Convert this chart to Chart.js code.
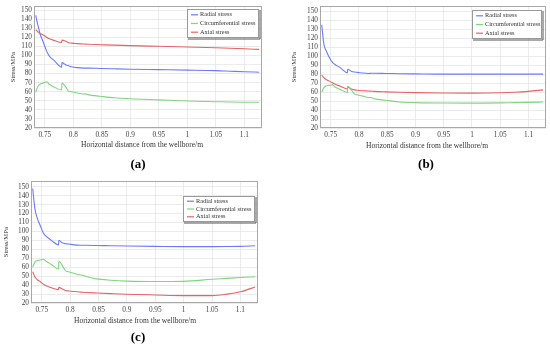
<!DOCTYPE html>
<html>
<head>
<meta charset="utf-8">
<script src="https://cdn.jsdelivr.net/npm/chart.js@4.4.0/dist/chart.umd.min.js"></script>
<style>
	body { margin: 0; width: 550px; height: 354px; background: #fff; position: relative; overflow: hidden; }
	canvas { position: absolute; }
</style>
</head>
<body>
<canvas id="chartA" width="275" height="175" style="left:0;top:0"></canvas>
<canvas id="chartB" width="275" height="175" style="left:275px;top:0"></canvas>
<canvas id="chartC" width="275" height="179" style="left:0;top:175px"></canvas>
<script>
'use strict';

// horizontal distance from the wellbore (m), shared by all three panels
const distance = [0.734, 0.738, 0.742, 0.747, 0.753, 0.757, 0.767, 0.7795, 0.78, 0.787, 0.792, 0.797, 0.807, 0.817, 0.822, 0.827, 0.847, 0.872, 0.9, 0.95, 1.0, 1.05, 1.075, 1.1, 1.126];

const xTickValues = [0.75, 0.8, 0.85, 0.9, 0.95, 1, 1.05, 1.1];
const yTickValues = [20, 30, 40, 50, 60, 70, 80, 90, 100, 110, 120, 130, 140, 150];

const seriesNames = ['Radial stress', 'Circumferential stress', 'Axial stress'];
const lineColors = ['#6b7bff', '#7fd67f', '#e86262'];
const xTitle = 'Horizontal distance from the wellbore/m';
const yTitle = 'Stress/MPa';

// (a)
const radialA = [144, 133, 123, 115, 105, 100, 94, 87, 92, 89.5, 88.5, 87.5, 86.5, 86, 86, 86, 85.6, 85.2, 84.8, 84.3, 83.8, 83.2, 82.6, 82, 81.5];
const circA = [59.5, 66, 68.5, 69.5, 71, 68.5, 65, 61.8, 69.5, 65, 60.5, 60, 58.6, 57.5, 57.6, 56.5, 55, 53.3, 52.2, 51, 49.8, 49, 48.6, 48.4, 48.3];
const axialA = [128.5, 126, 124, 122.5, 120, 118.5, 116.3, 114.3, 116.8, 115.5, 114, 113.5, 113, 112.6, 112.4, 112.2, 111.8, 111.3, 110.8, 110, 109.2, 108.4, 107.9, 107.3, 106.6];

// (b)
const radialB = [135, 113, 106, 99, 93, 91, 87, 81.5, 85.5, 83, 82.3, 82, 81.2, 80.8, 81, 81, 80.8, 80.5, 80.3, 80, 80, 80, 80, 80, 80];
const circB = [60, 65, 67, 67.5, 68, 66, 63, 59.5, 66.5, 62, 58, 57, 55.5, 54, 54, 52.5, 51, 49, 48.3, 47.8, 47.7, 48, 48.3, 48.6, 49];
const axialB = [79, 76, 74, 72.5, 70.5, 69, 66.5, 63.5, 65.5, 63.5, 62.5, 62, 61.5, 61.2, 61, 60.8, 60.3, 59.8, 59.4, 59, 58.8, 59.2, 59.8, 60.8, 62.5];

// (c)
const radialC = [148, 125, 115, 107, 98, 95, 90, 85, 90, 87, 86.3, 86, 85, 84.5, 84.5, 84.5, 84.3, 84, 83.7, 83.3, 83, 83, 83.1, 83.3, 84];
const circC = [60, 66, 67.5, 68, 69, 67, 63, 58, 67, 61, 56, 55, 53, 51.5, 51, 50, 47, 45.5, 44.5, 44, 44.2, 46.5, 47.5, 48.5, 49.3];
const axialC = [55, 49, 46, 44, 41, 39.5, 37, 35, 37.5, 35.5, 34, 33.5, 32.8, 32.3, 32, 31.8, 31.2, 30.5, 29.8, 29, 28.3, 28.3, 29.8, 32.5, 38];

const serif = '"Liberation Serif", "Times New Roman", serif';

// frame, x title, panel letter and the boxed legend inside the plot
const decorPlugin = {
	id: 'decor',
	afterDraw(chart, args, opts) {
		const ctx = chart.ctx;
		const area = chart.chartArea;
		ctx.save();

		ctx.strokeStyle = '#a8a8a8';
		ctx.lineWidth = 1;
		ctx.strokeRect(Math.round(area.left) + 0.5, Math.round(area.top) + 0.5,
			Math.round(area.right - area.left) - 1, Math.round(area.bottom - area.top) - 1);

		ctx.fillStyle = '#333';
		ctx.textAlign = 'center';
		ctx.textBaseline = 'middle';
		ctx.font = '7.5px ' + serif;
		ctx.fillText(xTitle, opts.titleX, opts.titleY);

		ctx.fillStyle = '#000';
		ctx.font = 'bold 13px ' + serif;
		ctx.fillText(opts.label, opts.labelX, opts.labelY);

		const b = opts.legend;
		ctx.fillStyle = '#fff';
		ctx.fillRect(b.x, b.y, b.w, b.h);
		ctx.strokeStyle = '#555';
		ctx.beginPath();
		ctx.moveTo(b.x + b.w + 1, b.y + 1);
		ctx.lineTo(b.x + b.w + 1, b.y + b.h + 1);
		ctx.lineTo(b.x + 1, b.y + b.h + 1);
		ctx.stroke();
		ctx.strokeStyle = '#999';
		ctx.strokeRect(b.x + 0.5, b.y + 0.5, b.w - 1, b.h - 1);

		const step = b.h * 0.3;
		ctx.font = '6.3px ' + serif;
		ctx.textAlign = 'left';
		chart.data.datasets.forEach(function (ds, i) {
			const rowY = b.y + b.h * 0.2 + i * step;
			ctx.strokeStyle = ds.borderColor;
			ctx.lineWidth = 1.2;
			ctx.beginPath();
			ctx.moveTo(b.x + 4, rowY);
			ctx.lineTo(b.x + 11, rowY);
			ctx.stroke();
			ctx.fillStyle = '#333';
			ctx.fillText(ds.label, b.x + 13, rowY);
		});

		ctx.restore();
	},
};

const makeChart = function (id, p) {
	const datasets = p.series.map(function (vals, i) {
		return {
			label: seriesNames[i],
			data: distance.map(function (x, j) { return { x: x, y: vals[j] }; }),
			borderColor: lineColors[i],
			borderWidth: 1.1,
			pointRadius: 0,
			fill: false,
			cubicInterpolationMode: 'monotone',
		};
	});

	const options = {
		responsive: false,
		animation: false,
		devicePixelRatio: 1,
		layout: {
			padding: { top: 5, right: p.padRight, left: 0, bottom: 0 },
		},
		scales: {
			x: {
				type: 'linear',
				min: 0.731,
				max: 1.131,
				afterBuildTicks: function (axis) {
					axis.ticks = xTickValues.map(function (v) { return { value: v }; });
				},
				afterFit: function (axis) {
					axis.height = p.xAxisHeight;
				},
				ticks: {
					autoSkip: false,
					maxRotation: 0,
					padding: 3,
					color: '#444',
					font: { family: serif, size: 7.3 },
					callback: function (v) {
						return String(Math.round(v * 100) / 100);
					},
				},
				grid: { color: '#e6e6e6', lineWidth: 0.8, drawTicks: false },
				border: { display: false },
			},
			y: {
				min: 20,
				max: p.yMax,
				afterBuildTicks: function (axis) {
					axis.ticks = yTickValues.map(function (v) { return { value: v }; });
				},
				afterFit: function (axis) {
					axis.width = p.yAxisWidth;
				},
				ticks: {
					autoSkip: false,
					padding: 2,
					color: '#444',
					font: { family: serif, size: 7.3 },
				},
				title: {
					display: true,
					text: yTitle,
					color: '#333',
					font: { family: serif, size: 6.6 },
					padding: { top: p.yTitlePad, bottom: 0 },
				},
				grid: { color: '#e6e6e6', lineWidth: 0.8, drawTicks: false },
				border: { display: false },
			},
		},
		plugins: {
			legend: { display: false },
			tooltip: { enabled: false },
			decor: p.decor,
		},
	};

	new Chart(document.getElementById(id), {
		type: 'line',
		data: { datasets: datasets },
		options: options,
		plugins: [decorPlugin],
	});
};

document.addEventListener('DOMContentLoaded', function () {
	makeChart('chartA', {
		series: [radialA, circA, axialA],
		yMax: 154, padRight: 13, xAxisHeight: 47, yAxisWidth: 34, yTitlePad: 9,
		decor: {
			label: '(a)', labelX: 138, labelY: 165, titleX: 142, titleY: 145,
			legend: { x: 187, y: 9, w: 72, h: 29 },
		},
	});
	makeChart('chartB', {
		series: [radialB, circB, axialB],
		yMax: 155.5, padRight: 4, xAxisHeight: 47, yAxisWidth: 45, yTitlePad: 15,
		decor: {
			label: '(b)', labelX: 151, labelY: 165, titleX: 152, titleY: 146,
			legend: { x: 197, y: 10, w: 70, h: 29 },
		},
	});
	makeChart('chartC', {
		series: [radialC, circC, axialC],
		yMax: 156, padRight: 17, xAxisHeight: 51, yAxisWidth: 31, yTitlePad: 2,
		decor: {
			label: '(c)', labelX: 138, labelY: 163, titleX: 135, titleY: 146,
			legend: { x: 183, y: 21, w: 72, h: 26 },
		},
	});
});
</script>
</body>
</html>
